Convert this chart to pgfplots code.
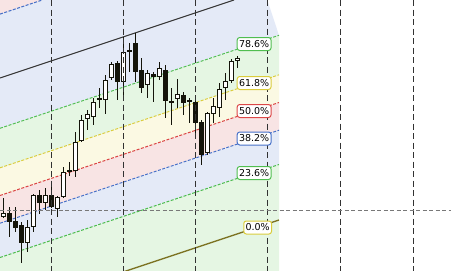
\documentclass[border=0pt]{standalone}
\usepackage{fontspec}
\setmainfont{DejaVu Sans}
\usepackage{pgfplots}
\usepackage{pgfplotstable}
\pgfplotsset{compat=1.18}
\definecolor{lgreen}{RGB}{80,190,80}
\definecolor{lyellow}{RGB}{218,204,60}
\definecolor{lred}{RGB}{220,72,72}
\definecolor{lblue}{RGB}{70,112,200}
\definecolor{fblue}{RGB}{228,234,247}
\definecolor{fgreen}{RGB}{229,246,227}
\definecolor{fpink}{RGB}{248,228,228}
\definecolor{fyellow}{RGB}{251,249,227}
\definecolor{candle}{RGB}{20,20,10}
\definecolor{vline}{RGB}{50,50,50}
\definecolor{hline}{RGB}{120,120,120}
\definecolor{olive}{RGB}{125,115,35}
% pixel-based coordinates (y grows downward)
\pgfplotstableread{
x o h l c
3.5 217 198 218 213
27.5 243 220 252 227
33.5 227 194 232 195
45.5 203 188 210 195
57.5 209 196 217 197
63.5 197 167 198 172
75.5 171 132 177 142
81.5 141 115 142 120
87.5 119 110 130 114
93.5 117 98 125 102
105.5 100 75 114 80
111.5 78 62 80 64
123.5 82 37 99 52
129.5 52 43 72 50
147.5 85 70 98 73
159.5 77 62 80 68
171.5 103 88 125 101
177.5 99 79 108 94
207.5 153 112 155 113
213.5 114 98 123 106
219.5 108 83 117 89
225.5 88 73 100 81
231.5 81 59 83 61
237.5 61 56 68 58
}\upc
\pgfplotstableread{
x o h l c
9.5 213 207 237 222
15.5 221 207 232 228
21.5 225 222 263 243
39.5 195 190 214 203
51.5 195 184 208 207
69.5 170 162 176 172
99.5 98 88 108 100
117.5 63 61 100 82
135.5 43 33 82 72
141.5 70 58 93 88
153.5 74 72 102 77
165.5 70 65 118 101
183.5 95 92 115 103
189.5 100 98 123 102
195.5 102 97 133 123
201.5 122 120 165 155
}\downc
\begin{document}
\begin{tikzpicture}
\begin{axis}[width=451pt, height=271pt, scale only axis,
  xmin=0, xmax=451, ymin=0, ymax=271, y dir=reverse,
  enlargelimits=false, axis line style={draw=none},
  xtick=\empty, ytick=\empty, clip=true]
% bands
\addplot[fill=fgreen, draw=none, forget plot] coordinates {(0,257.5) (279,164.5) (279,275) (0,275)} -- cycle;
\addplot[fill=fblue, draw=none, forget plot] coordinates {(0,257.5) (279,164.5) (279,130.2) (0,223.2)} -- cycle;
\addplot[fill=fpink, draw=none, forget plot] coordinates {(0,223.2) (279,130.2) (279,102.5) (0,195.5)} -- cycle;
\addplot[fill=fyellow, draw=none, forget plot] coordinates {(0,195.5) (279,102.5) (279,74.8) (0,167.8)} -- cycle;
\addplot[fill=fgreen, draw=none, forget plot] coordinates {(0,167.8) (279,74.8) (279,35.3) (0,128.3)} -- cycle;
\addplot[fill=fblue, draw=none, forget plot] coordinates {(0,128.3) (279,35.3) (267,-1) (0,-1)} -- cycle;
\addplot[fill=fpink, draw=none, forget plot] coordinates {(0,14.1) (42.3,0) (42.3,-1) (0,-1)} -- cycle;
% level lines
\addplot[lgreen, line width=1pt, dash pattern=on 3pt off 1.5pt, forget plot] coordinates {(0,257.5) (279,164.5)};
\addplot[lblue, line width=1pt, dash pattern=on 3pt off 1.5pt, forget plot] coordinates {(0,223.2) (279,130.2)};
\addplot[lred, line width=1pt, dash pattern=on 3pt off 1.5pt, forget plot] coordinates {(0,195.5) (279,102.5)};
\addplot[lyellow, line width=1pt, dash pattern=on 3pt off 1.5pt, forget plot] coordinates {(0,167.8) (279,74.8)};
\addplot[lgreen, line width=1pt, dash pattern=on 3pt off 1.5pt, forget plot] coordinates {(0,128.3) (279,35.3)};
\addplot[lblue, line width=1pt, dash pattern=on 3pt off 1.5pt, forget plot] coordinates {(0,14.1) (42.3,0)};
\addplot[vline, line width=1pt, forget plot] coordinates {(0,78) (234,0)};
\addplot[olive, line width=1.3pt, forget plot] coordinates {(0,313) (279,220)};
% wicks
\addplot[draw=none, mark=none, forget plot, error bars/.cd, y dir=plus, y explicit, error mark=none,
  error bar style={line width=1pt, draw=candle, solid}]
  table[x=x, y=h, y error plus expr={\thisrow{l}-\thisrow{h}}] {\upc};
\addplot[draw=none, mark=none, forget plot, error bars/.cd, y dir=plus, y explicit, error mark=none,
  error bar style={line width=1pt, draw=candle, solid}]
  table[x=x, y=h, y error plus expr={\thisrow{l}-\thisrow{h}}] {\downc};
% bodies
\addplot[draw=none, mark=none, forget plot, error bars/.cd, y dir=plus, y explicit, error mark=none,
  error bar style={line width=5pt, draw=candle, solid}]
  table[x=x, y=o, y error plus expr={max(\thisrow{c}-\thisrow{o},1.5)}] {\downc};
\addplot[draw=none, mark=none, forget plot, error bars/.cd, y dir=plus, y explicit, error mark=none,
  error bar style={line width=5pt, draw=candle, solid}]
  table[x=x, y=c, y error plus expr={max(\thisrow{o}-\thisrow{c},1.5)}] {\upc};
\addplot[draw=none, mark=none, forget plot, error bars/.cd, y dir=plus, y explicit, error mark=none,
  error bar style={line width=3pt, draw=white, solid}]
  table[x=x, y expr={\thisrow{c}+1}, y error plus expr={max(\thisrow{o}-\thisrow{c}-2,0)}] {\upc};
% dashed guides
\addplot[vline, line width=1pt, dash pattern=on 6pt off 3.5pt, forget plot] coordinates {(51,0) (51,271)};
\addplot[vline, line width=1pt, dash pattern=on 6pt off 3.5pt, forget plot] coordinates {(123,0) (123,271)};
\addplot[vline, line width=1pt, dash pattern=on 6pt off 3.5pt, forget plot] coordinates {(195,0) (195,271)};
\addplot[vline, line width=1pt, dash pattern=on 6pt off 3.5pt, forget plot] coordinates {(267,0) (267,271)};
\addplot[vline, line width=1pt, dash pattern=on 6pt off 3.5pt, forget plot] coordinates {(340,0) (340,271)};
\addplot[vline, line width=1pt, dash pattern=on 6pt off 3.5pt, forget plot] coordinates {(413,0) (413,271)};
\addplot[hline, line width=1pt, dash pattern=on 4pt off 2.5pt, forget plot] coordinates {(0,210) (451,210)};
% labels
\tikzset{lbl/.style={fill=white, line width=1pt, rounded corners=2.5pt, inner xsep=1.8pt, inner ysep=0pt,
  minimum height=13pt, anchor=east, font=\fontsize{9.5}{10}\selectfont}}
\node[lbl, draw=lgreen] at (axis cs:271.5,44) {78.6\%};
\node[lbl, draw=lyellow] at (axis cs:271.5,83) {61.8\%};
\node[lbl, draw=lred] at (axis cs:271.5,111) {50.0\%};
\node[lbl, draw=lblue] at (axis cs:271.5,138.5) {38.2\%};
\node[lbl, draw=lgreen] at (axis cs:271.5,173) {23.6\%};
\node[lbl, draw=lyellow] at (axis cs:272,227.5) {0.0\%};
\end{axis}
\end{tikzpicture}
\end{document}
